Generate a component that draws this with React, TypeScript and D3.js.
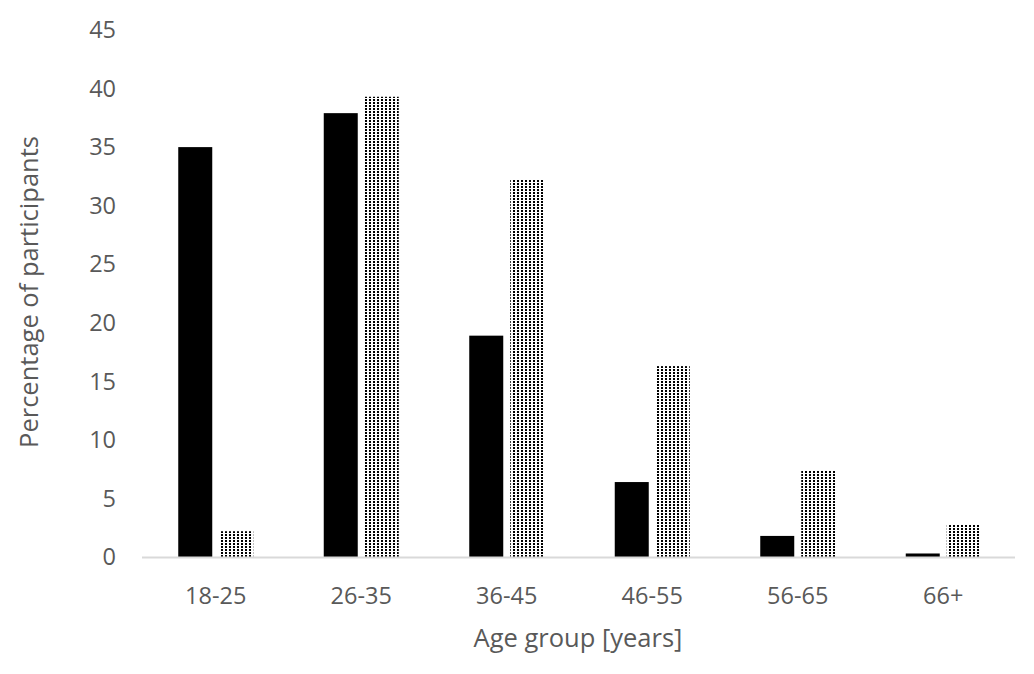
import React from "react";
import * as d3 from "d3";

const categories = ["18-25", "26-35", "36-45", "46-55", "56-65", "66+"];
const seriesSolid = [35.0, 37.9, 18.9, 6.4, 1.8, 0.3];
const seriesDotted = [2.2, 39.3, 32.2, 16.3, 7.4, 2.8];
const yTicks = [0, 5, 10, 15, 20, 25, 30, 35, 40, 45];

export default function App() {
  const W = 1034, H = 674;
  const left = 142, right = 1015, top = 30, bottom = 557;
  const x = d3.scaleBand<string>().domain(categories).range([left, right]).paddingInner(0).paddingOuter(0);
  const y = d3.scaleLinear().domain([0, 45]).range([bottom, top]);
  const barW = 34, gap = 7;
  const font = "'Open Sans', 'Liberation Sans', sans-serif";
  const txt = "#595959";
  return (
    <svg width={W} height={H} style={{ position: "absolute", left: 0, top: 0, background: "#fff" }}>
      <defs>
        <pattern id="dots" width="4" height="3" patternUnits="userSpaceOnUse">
          <rect x="0" y="0" width="4" height="3" fill="#fff" />
          <rect x="1" y="0" width="2" height="2" fill="#000" />
        </pattern>
      </defs>
      <rect width={W} height={H} fill="#fff" />
      {yTicks.map((t) => (
        <text key={t} x={116} y={y(t)} dy="0.35em" textAnchor="end" fontFamily={font} fontSize={23.5} fill={txt}>{t}</text>
      ))}
      {categories.map((c, i) => {
        const cx = x(c)! + x.bandwidth() / 2 + 1;
        return (
          <g key={c}>
            <rect x={cx - gap / 2 - barW} y={y(seriesSolid[i])} width={barW} height={bottom - y(seriesSolid[i])} fill="#000" />
            <rect x={cx + gap / 2} y={y(seriesDotted[i])} width={barW} height={bottom - y(seriesDotted[i])} fill="url(#dots)" />
            <text x={cx} y={604} textAnchor="middle" fontFamily={font} fontSize={23.5} fill={txt}>{c}</text>
          </g>
        );
      })}
      <line x1={left} x2={right} y1={bottom + 0.5} y2={bottom + 0.5} stroke="#d9d9d9" strokeWidth={2} />
      <text x={578} y={647} textAnchor="middle" fontFamily={font} fontSize={25.5} fill={txt}>Age group [years]</text>
      <text transform={`translate(38, 292) rotate(-90)`} textAnchor="middle" fontFamily={font} fontSize={25.5} fill={txt}>Percentage of participants</text>
    </svg>
  );
}
